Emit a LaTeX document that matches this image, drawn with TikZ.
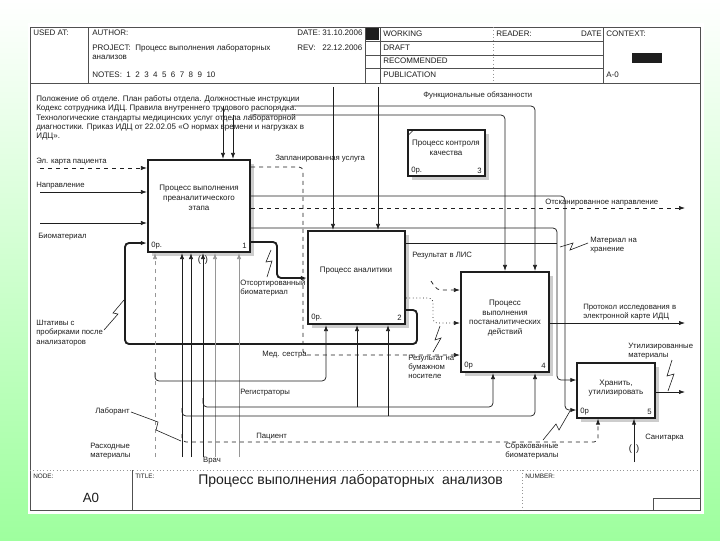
\documentclass[tikz,border=0pt]{standalone}
\usepackage{fontspec}
\setmainfont{Liberation Sans}
\usetikzlibrary{arrows.meta,shadows}
\definecolor{bggreen}{RGB}{158,255,158}
\definecolor{ink}{RGB}{30,30,30}
\definecolor{framec}{RGB}{80,80,80}
\definecolor{lgray}{RGB}{150,150,150}
\definecolor{shad}{RGB}{205,205,205}
\begin{document}
\begin{tikzpicture}[x=0.75pt,y=-0.75pt,
 lbl/.style={font=\fontsize{5.8}{6.9}\selectfont, inner sep=0pt, anchor=west, text=ink, align=left},
 hdr/.style={font=\fontsize{6}{7}\selectfont, inner sep=0pt, anchor=west, text=ink},
 small/.style={font=\fontsize{4.8}{6}\selectfont, inner sep=0pt, anchor=west, text=ink},
 btxt/.style={font=\fontsize{6}{7.3}\selectfont, inner sep=0pt, align=center, text=ink},
 thickbox/.style={draw=ink, line width=1.6pt, fill=white, inner sep=0pt,
   drop shadow={shadow xshift=3pt, shadow yshift=-3pt, fill=shad, opacity=1}},
 thinbox/.style={draw=ink, line width=0.9pt, fill=white, inner sep=0pt,
   drop shadow={shadow xshift=3pt, shadow yshift=-3pt, fill=shad, opacity=1}},
 ln/.style={draw=ink, line width=0.55pt, rounded corners=3pt},
 gln/.style={draw=lgray, line width=0.55pt, rounded corners=3pt},
 thk/.style={draw=ink, line width=1.4pt, rounded corners=3pt},
 arr/.style={-{Latex[length=4.5pt,width=3.2pt]}},
 zig/.style={draw=ink, line width=0.45pt},
 frm/.style={draw=framec, line width=0.6pt},
 dfrm/.style={draw=lgray, line width=0.5pt, dotted}]
\useasboundingbox (0,0) rectangle (720,540);
\shade[top color=white, bottom color=bggreen] (0,0) rectangle (720,540);
\fill[white] (28,23) rectangle (704,514);

% ---------- frame and header ----------
\draw[frm] (30,27) rectangle (700,510);
\draw[frm] (30,83) -- (700,83);
\draw[frm] (88,27) -- (88,83);
\draw[frm] (365,27) -- (365,83);
\draw[frm] (380,27) -- (380,83);
\draw[frm] (365,41) -- (603,41) (365,55) -- (603,55) (365,68) -- (603,68);
\draw[dfrm] (493,27) -- (493,83);
\draw[frm] (603,27) -- (603,83);
\fill[ink] (366,28) rectangle (379,40);
\fill[ink] (632,53) rectangle (662,63);
\node[hdr] (usedat) at (33,33) {USED AT:};
\node[hdr] (author) at (92,33) {AUTHOR:};
\node[hdr] (date) at (297,33) {DATE:\ 31.10.2006};
\node[hdr] (project) at (92,48) {PROJECT:\ \ Процесс выполнения лабораторных};
\node[hdr] (project2) at (92,57) {анализов};
\node[hdr] (rev) at (297,48) {REV:\ \ \ 22.12.2006};
\node[hdr] (notes) at (92,75) {NOTES:\ \ 1\ \ 2\ \ 3\ \ 4\ \ 5\ \ 6\ \ 7\ \ 8\ \ 9\ \ 10};
\node[hdr] (working) at (383,34) {WORKING};
\node[hdr] (draft) at (383,48) {DRAFT};
\node[hdr] (recom) at (383,61) {RECOMMENDED};
\node[hdr] (publ) at (383,75) {PUBLICATION};
\node[hdr] (reader) at (496,34) {READER:};
\node[hdr, anchor=east] (rdate) at (602,34) {DATE};
\node[hdr] (context) at (606,34) {CONTEXT:};
\node[hdr] (aminus) at (606,75) {A-0};

% ---------- footer ----------
\draw[dfrm] (30,470) -- (700,470);
\draw[frm] (132,470) -- (132,510);
\draw[dfrm] (522,470) -- (522,510);
\draw[frm] (653,498) rectangle (700,510);
\node[small] (nodel) at (33,476) {NODE:};
\node[small] (titlel) at (135,476) {TITLE:};
\node[small] (numberl) at (525,476) {NUMBER:};
\node[font=\fontsize{10}{12}\selectfont, inner sep=0pt, text=ink] (a0) at (91,498) {A0};
\node[font=\fontsize{10.5}{12}\selectfont, inner sep=0pt, anchor=west, text=ink] (title) at (198,481) {Процесс выполнения лабораторных\ \ анализов};

% ---------- boxes ----------
\node[thickbox, minimum width=76.5pt, minimum height=69pt] (b1) at (199,206) {};
\node[thickbox, minimum width=72.75pt, minimum height=69.75pt] (b2) at (356.5,277.5) {};
\node[thinbox, minimum width=57.75pt, minimum height=34.5pt] (b3) at (446.5,153) {};
\node[thickbox, minimum width=66pt, minimum height=75pt] (b4) at (505,322) {};
\node[thinbox, minimum width=58.5pt, minimum height=41.25pt] (b5) at (616,390.5) {};

\node[btxt] (b1t) at (199,198) {Процесс выполнения\\преаналитического\\этапа};
\node[lbl] (b1o) at (151,246) {0р.};
\node[lbl, anchor=east] (b1n) at (247,246) {1};
\node[btxt] (b2t) at (356,271) {Процесс аналитики};
\node[lbl] (b2o) at (311,318) {0р.};
\node[lbl, anchor=east] (b2n) at (402,318) {2};
\node[btxt] (b3t) at (446,148) {Процесс контроля\\качества};
\node[lbl] (b3o) at (411,171) {0р.};
\node[lbl, anchor=east] (b3n) at (482,171) {3};
\draw[ink, line width=0.5pt] (408.5,135) -- (413,130.5);
\node[btxt] (b4t) at (505,318) {Процесс\\выполнения\\постаналитических\\действий};
\node[lbl] (b4o) at (464,366) {0р};
\node[lbl, anchor=east] (b4n) at (546,366) {4};
\node[btxt] (b5t) at (616,388) {Хранить,\\утилизировать};
\node[lbl] (b5o) at (580,412) {0р};
\node[lbl, anchor=east] (b5n) at (652,412) {5};

% ---------- controls ----------
\node[lbl, anchor=north west, font=\fontsize{6}{7}\selectfont] (ctrl) at (36,95.5)
 {Положение об отделе. План работы отдела. Должностные инструкции\\
  Кодекс сотрудника ИДЦ. Правила внутреннего трудового распорядка.\\
  Технологические стандарты медицинских услуг отдела лабораторной\\
  диагностики. Приказ ИДЦ от 22.02.05 «О нормах времени и нагрузках в\\
  ИДЦ».};
\node[lbl] (func) at (423,95) {Функциональные обязанности};
\coordinate (c1s) at (292,106);
\coordinate (c2s) at (250,115);
\draw[ln, arr] (c1s) -- (535,106) -- (535,0 |- b4.north);
\draw[ln, arr] (c2s) -- (505,115) -- (505,0 |- b4.north);
\draw[ln, arr] (223,106) -- (223,0 |- b1.north);
\draw[ln, arr] (233,115) -- (233,0 |- b1.north);
\draw[ln, arr] (333,87) -- (333,0 |- b2.north);
\draw[ln, arr] (378,87) -- (378,0 |- b2.north);

% ---------- inputs to box 1 ----------
\node[lbl] (elk) at (36,162) {Эл. карта пациента};
\coordinate (elks) at (40,168);
\draw[ln, dashed, arr] (elks) -- (b1.west |- elks);
\node[lbl] (napr) at (36,186) {Направление};
\coordinate (naprs) at (40,192);
\draw[ln, arr] (naprs) -- (b1.west |- naprs);
\node[lbl] (bio) at (38,237) {Биоматериал};
\coordinate (bios) at (40,223);
\draw[ln, arr] (bios) -- (b1.west |- bios);

% feedback (thick)
\draw[thk, arr] (b2.east |- 0,310) -- (417,310) -- (417,344) -- (125,344) -- (125,243) -- (b1.west |- 0,243);
\node[lbl] (shtat) at (36,333) {Штативы с\\пробирками после\\анализаторов};
\draw[zig] (104,330) -- (118,314) -- (113,313) -- (124,300);

% ---------- outputs of box 1 ----------
\node[lbl] (zapl) at (275,159) {Запланированная услуга};
\draw[ln, dashed, arr] (b1.east |- 0,167) -- (303,167) -- (303,355) -- (b4.west |- 0,355);
\node[lbl] (meds) at (262,355) {Мед. сестра};
\draw[ln, arr] (b1.east |- 0,196) -- (565,196) -- (565,410) -- (b5.west |- 0,410);
\draw[ln, dashed, arr] (b1.east |- 0,208) -- (685,208);
\node[lbl] (otsk) at (545,203) {Отсканированное направление};
\draw[ln, arr] (b1.east |- 0,228) -- (557,228) -- (557,380) -- (b5.west |- 0,380);
\draw[thk, arr] (b1.east |- 0,242) -- (277,242) -- (277,278) -- (b2.west |- 0,278);
\node[lbl] (otsort) at (240,288) {Отсортированный\\биоматериал};
\draw[zig] (271,250) -- (266,262) -- (272,261) -- (267,277);

% ---------- outputs of box 2 ----------
\draw[ln] (b2.east |- 0,243) -- (557,243);
\node[lbl] (mater) at (590,245) {Материал на\\хранение};
\draw[zig] (560,247) -- (573,243) -- (570,250) -- (588,243);
\node[lbl] (lis) at (412,256) {Результат в ЛИС};
\draw[ln, dotted, arr] (b2.east |- 0,298) -- (433,298) -- (433,323) -- (b4.west |- 0,323);
\draw[ln, dashed, arr] (431,281) -- (437,290) -- (b4.west |- 0,290);
\node[lbl] (bum) at (408,367) {Результат на\\бумажном\\носителе};
\draw[zig] (440,326) -- (435,340) -- (441,338) -- (433,352);

% ---------- outputs of box 4 and 5 ----------
\draw[ln, arr] (b4.east |- 0,323) -- (685,323);
\node[lbl] (prot) at (583,312) {Протокол исследования в\\электронной карте ИДЦ};
\draw[ln, arr] (b5.east |- 0,392) -- (685,392);
\node[lbl] (util) at (628,351) {Утилизированные\\материалы};
\draw[zig] (672,360) -- (667,376) -- (674,374) -- (668,391);

% ---------- mechanisms ----------
\draw[gln, dashed, arr] (155,457) -- (155,0 |- b1.south);
\draw[ln, arr] (182,457) -- (182,0 |- b1.south);
\draw[ln, arr] (191,457) -- (191,0 |- b1.south);
\draw[ln, arr] (203,457) -- (203,0 |- b1.south);
\draw[gln, arr] (215,457) -- (215,0 |- b1.south);
\draw[gln, arr] (239,457) -- (239,0 |- b1.south);
\node[lbl, anchor=center, font=\fontsize{7}{8}\selectfont] (tun1) at (203,260) {(\hspace{3pt})};

\draw[ln, arr] (155,372) -- (155,381) -- (326,381) -- (326,0 |- b2.south);
\draw[ln, arr] (203,398) -- (203,407) -- (493,407) -- (493,0 |- b4.south);
\draw[ln, arr] (357,407) -- (357,0 |- b2.south);
\draw[ln, arr] (182,408) -- (182,416) -- (535,416) -- (535,0 |- b4.south);
\draw[ln, arr] (388,416) -- (388,0 |- b2.south);
\draw[ln, dashed, arr] (182,434) -- (182,442) -- (598,442) -- (598,0 |- b5.south);
\draw[ln, arr] (634,462) -- (634,0 |- b5.south);
\node[lbl, anchor=center, font=\fontsize{7}{8}\selectfont] (tun2) at (634,449) {(\hspace{3pt})};

\node[lbl] (regs) at (240,393) {Регистраторы};
\node[lbl] (pac) at (256,437) {Пациент};
\node[lbl] (lab) at (95,411) {Лаборант};
\draw[zig] (131,412) -- (158,422) -- (156,430) -- (181,441);
\node[lbl] (rash) at (90,451) {Расходные\\материалы};
\node[lbl, anchor=center] (vrach) at (212,461) {Врач};
\node[lbl] (sbrak) at (505,451) {Сбракованные\\биоматериалы};
\draw[zig] (543,440) -- (556,424) -- (559,430) -- (570,411);
\node[lbl] (sanit) at (645,438) {Санитарка};
\end{tikzpicture}
\end{document}
